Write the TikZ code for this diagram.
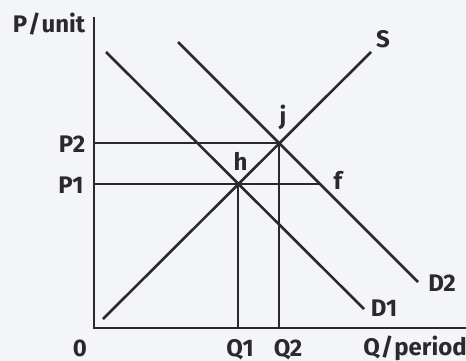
\documentclass[tikz,border=0pt]{standalone}
\usepackage{fontspec}
\setmainfont{Fira Sans}
\definecolor{ink}{HTML}{2A2A2E}
\definecolor{bg}{HTML}{F4F5F9}
\begin{document}
\begin{tikzpicture}[x=1pt,y=-1pt,
  curve/.style={draw=ink,line width=2.6pt},
  guide/.style={draw=ink,line width=1.8pt},
  axis/.style={draw=ink,line width=2pt},
  lbl/.style={text=ink,font=\bfseries\fontsize{24}{24}\selectfont,inner sep=0pt,anchor=base}]
\fill[bg] (0,0) rectangle (466,361);
\useasboundingbox (0,0) rectangle (466,361);
% axes
\coordinate (ytop) at (94,17);
\coordinate (origin) at (94,328);
\coordinate (xend) at (466,328);
\draw[axis] (ytop) -- (origin) -- (xend);
% curves
\coordinate (s0) at (103,319);
\coordinate (s1) at (371,52);
\coordinate (d10) at (106,52);
\coordinate (d11) at (364,309);
\coordinate (d20) at (178,42);
\coordinate (d21) at (418,282);
\coordinate (h) at (238,184);
\coordinate (j) at (279,143);
\coordinate (fpt) at (320,184);
\coordinate (p1) at (94,184);
\coordinate (p2) at (94,143);
\coordinate (q1) at (238,328);
\coordinate (q2) at (279,328);
\draw[guide] (p2) -- (j) -- (q2);
\draw[guide] (p1) -- (fpt);
\draw[guide] (h) -- (q1);
\draw[curve] (s0) -- (s1);
\draw[curve] (d10) -- (d11);
\draw[curve] (d20) -- (d21);
% labels
\node[lbl] (lPu) at (49,33) {P\kern1pt/\kern1pt unit};
\node[lbl] (lS) at (383,48) {S};
\node[lbl] (lD1) at (384,316) {D1};
\node[lbl] (lD2) at (442,291) {D2};
\node[lbl] (lP2) at (72,152) {P2};
\node[lbl] (lP1) at (71,193) {P1};
\node[lbl] (lh) at (240.5,170) {h};
\node[lbl] (lj) at (283,124) {j};
\node[lbl] (lf) at (338,189) {f};
\node[lbl] (l0) at (80,356) {0};
\node[lbl] (lQ1) at (240,356) {Q1};
\node[lbl] (lQ2) at (288,356) {Q2};
\node[lbl,anchor=base east] (lQp) at (467,355) {Q\kern1pt/\kern1pt period};
\end{tikzpicture}
\end{document}
